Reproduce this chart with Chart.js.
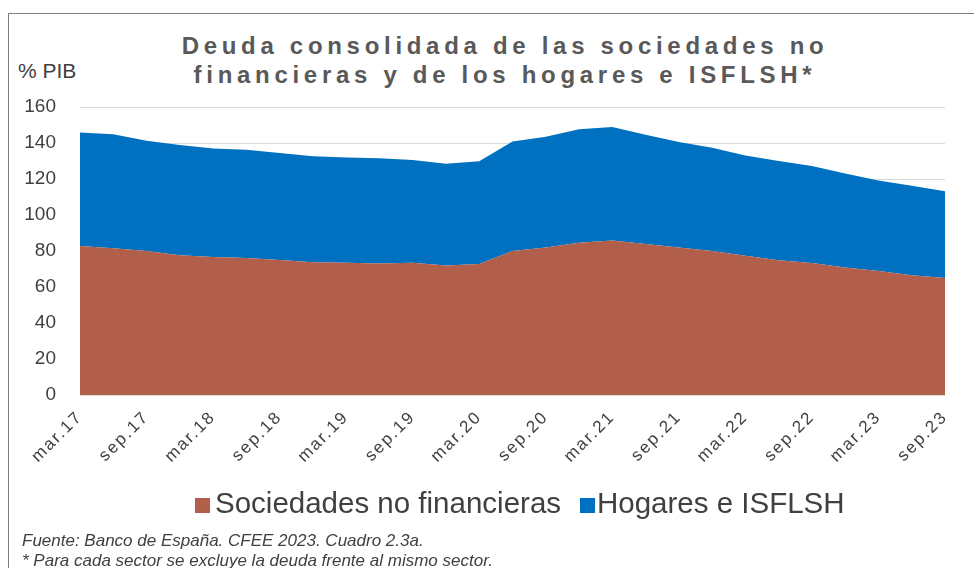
<!DOCTYPE html>
<html>
<head>
<meta charset="utf-8">
<script src="https://cdn.jsdelivr.net/npm/chart.js@4/dist/chart.umd.min.js"></script>
<style>
  body { margin: 0; background: #fff; font-family: "Liberation Sans", Arial, sans-serif; }
  #wrap { position: relative; width: 974px; height: 568px; overflow: hidden; }
  #frame { position: absolute; left: 8px; top: 13px; width: 1000px; height: 600px; border: 1px solid #808080; }
  #title { position: absolute; left: 0; width: 1010px; top: 31px; text-align: center; font-weight: bold;
           font-size: 24px; line-height: 29px; letter-spacing: 4.7px; color: #595959; }
  #unit { position: absolute; left: 18px; top: 59px; font-size: 21px; color: #404040; }
  #note { position: absolute; left: 22px; top: 531px; font-size: 17px; line-height: 20px; font-style: italic; color: #404040; }
  .lg { position: absolute; top: 486px; font-size: 29.5px; line-height: 34px; color: #404040; white-space: nowrap; }
  .box { position: absolute; top: 498px; width: 15px; height: 15px; }
  canvas { position: absolute; left: 0; top: 0; }
</style>
</head>
<body>
<div id="wrap">
  <div id="frame"></div>
  <div id="title">Deuda consolidada de las sociedades no<br>financieras y de los hogares e ISFLSH*</div>
  <div id="unit">% PIB</div>
  <canvas id="deuda" width="974" height="568"></canvas>
  <div id="legend"></div>
  <div id="note">Fuente: Banco de España. CFEE 2023. Cuadro 2.3a.<br>* Para cada sector se excluye la deuda frente al mismo sector.</div>
</div>
<script>
// trimestres mar.17 - sep.23
var quarters = ['mar.17','jun.17','sep.17','dic.17','mar.18','jun.18','sep.18','dic.18',
  'mar.19','jun.19','sep.19','dic.19','mar.20','jun.20','sep.20','dic.20',
  'mar.21','jun.21','sep.21','dic.21','mar.22','jun.22','sep.22','dic.22',
  'mar.23','jun.23','sep.23'];
var sociedades = [82.8, 81.5, 80.0, 77.6, 76.7, 76.1, 75.0, 73.7, 73.5, 73.1, 73.5, 71.9, 72.8,
  80.0, 81.9, 84.6, 85.9, 83.9, 81.9, 80.0, 77.4, 74.8, 73.3, 70.8, 68.9, 66.5, 65.0];
var hogares = [63.1, 63.3, 61.3, 61.3, 60.2, 60.2, 59.4, 58.9, 58.5, 58.4, 57.1, 56.6, 57.0,
  60.9, 61.6, 63.0, 63.0, 60.7, 58.7, 57.4, 55.7, 55.2, 53.9, 52.3, 50.2, 49.8, 48.2];

var txt = '#404040';
Chart.defaults.font.family = '"Liberation Sans", Arial, sans-serif';

var chart = new Chart('deuda', {
  type: 'line',
  data: {
    labels: quarters,
    datasets: [
      {
        label: 'Sociedades no financieras',
        data: sociedades,
        backgroundColor: '#B15E4A',
        borderColor: '#B15E4A',
        borderWidth: 0,
        pointRadius: 0,
        fill: 'origin',
        tension: 0
      },
      {
        label: 'Hogares e ISFLSH',
        data: hogares,
        backgroundColor: '#0070C0',
        borderColor: '#0070C0',
        borderWidth: 0,
        pointRadius: 0,
        fill: '-1',
        tension: 0
      }
    ]
  },
  options: {
    responsive: false,
    animation: false,
    layout: { padding: { top: 107, right: 29, bottom: 88, left: 0 } },
    scales: {
      x: {
        grid: { display: false },
        border: { display: false },
        ticks: {
          autoSkip: false,
          maxRotation: 45,
          minRotation: 45,
          color: txt,
          font: { size: 17 },
          padding: 4,
          callback: function(v, i) { return i % 2 === 0 ? quarters[i] : ''; }
        },
        afterFit: function(s) { s.height = 85; },
        // letter-spaced tick labels like the original
        afterBuildTicks: function(s) {
          if (s._spaced) return;
          var orig = s.drawLabels;
          s.drawLabels = function(area) {
            this.ctx.save();
            this.ctx.letterSpacing = '2px';
            orig.call(this, area);
            this.ctx.restore();
          };
          s._spaced = true;
        }
      },
      y: {
        stacked: true,
        min: 0,
        max: 160,
        border: { display: false },
        grid: { color: '#d9d9d9', drawTicks: false },
        ticks: { stepSize: 20, color: txt, font: { size: 19 }, padding: 24 },
        afterFit: function(s) { s.width = 80; }
      }
    },
    plugins: {
      legend: { display: false },
      tooltip: { enabled: false }
    }
  }
});

// legend as text, positions taken from the original
var lgX = [[195, 215], [580, 597]];
var html = '';
chart.data.datasets.forEach(function(ds, i) {
  html += '<div class="box" style="left:' + lgX[i][0] + 'px;background:' + ds.backgroundColor + '"></div>';
  html += '<div class="lg" style="left:' + lgX[i][1] + 'px">' + ds.label + '</div>';
});
document.getElementById('legend').innerHTML = html;
</script>
</body>
</html>
